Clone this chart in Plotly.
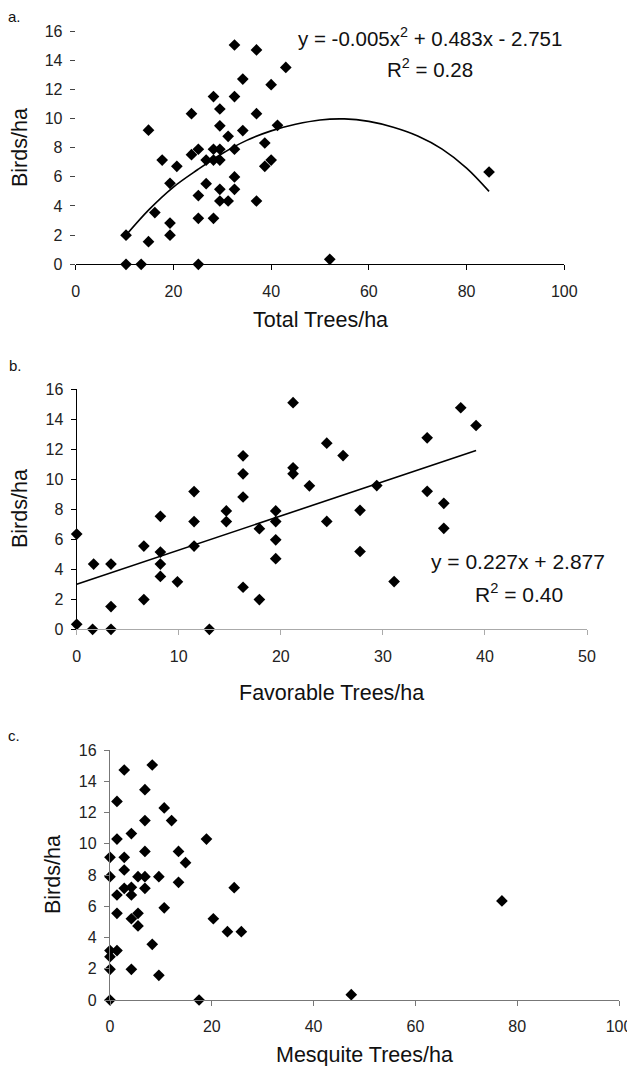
import plotly.graph_objects as go

# page body has an 8px default margin: draw the figure smaller and shift coordinates
OFF = 8
W, H = 635 - OFF, 1074 - 2 * OFF

# ---------------- data ----------------
# Panel a: Total Trees/ha vs Birds/ha
total_trees = [10.3, 10.3, 13.4, 14.9, 14.9, 16.2, 17.7, 19.3, 19.3, 19.3, 20.7, 23.7, 23.7,
               25.1, 25.1, 25.1, 25.1, 26.7, 26.7, 28.2, 28.2, 28.2, 28.2, 29.5, 29.5, 29.5,
               29.5, 29.5, 29.5, 31.2, 31.2, 32.5, 32.5, 32.5, 32.5, 32.5, 34.2, 34.2, 37.0,
               37.0, 37.0, 38.7, 38.7, 40.0, 40.0, 41.3, 43.0, 52.0, 84.6]
birds_a = [2.0, 0, 0, 9.2, 1.55, 3.55, 7.15, 5.55, 2.83, 2.0, 6.72, 10.33, 7.52,
           7.89, 4.71, 3.15, 0, 5.53, 7.15, 11.5, 7.89, 7.15, 3.15, 10.65, 9.5, 7.89,
           7.15, 5.14, 4.34, 8.78, 4.34, 15.04, 11.5, 7.89, 5.99, 5.14, 12.7, 9.17, 14.7,
           10.33, 4.34, 8.32, 6.72, 12.32, 7.15, 9.53, 13.5, 0.34, 6.33]
trend_a_x = [10.3, 15, 20, 25, 30, 35, 40, 45, 50, 55, 60, 65, 70, 75, 80, 84.6]
trend_a_y = [2.0, 3.75, 5.3, 6.5, 7.6, 8.5, 9.15, 9.6, 9.9, 9.97, 9.8, 9.4, 8.8, 7.9, 6.6, 5.0]

# Panel b: Favorable Trees/ha vs Birds/ha
fav_trees = [0, 0, 1.56, 1.66, 3.36, 3.36, 3.36, 6.58, 6.58, 8.2, 8.2, 8.2, 8.2, 9.87,
             11.5, 11.5, 11.5, 13.0, 14.66, 14.66, 16.3, 16.3, 16.3, 16.3, 17.9, 17.9,
             19.5, 19.5, 19.5, 19.5, 21.2, 21.2, 21.2, 22.8, 24.5, 24.5, 26.1, 27.76, 27.76,
             29.4, 31.1, 34.34, 34.34, 35.97, 35.97, 37.63, 39.13]
birds_b = [6.34, 0.33, 0, 4.34, 4.34, 1.51, 0, 5.54, 1.98, 7.52, 5.14, 4.34, 3.52, 3.16,
           9.17, 7.17, 5.54, 0, 7.88, 7.17, 11.55, 10.35, 8.81, 2.8, 6.7, 1.98,
           7.88, 7.17, 5.96, 4.7, 15.09, 10.75, 10.35, 9.55, 12.39, 7.18, 11.57, 7.92, 5.18,
           9.57, 3.18, 12.75, 9.19, 8.39, 6.72, 14.75, 13.57]
trend_b_x = [0, 39.13]
trend_b_y = [3.0, 11.9]

# Panel c: Mesquite Trees/ha vs Birds/ha
mesq_trees = [0, 0, 0, 0, 0, 0, 1.37, 1.37, 1.37, 1.37, 1.37, 2.8, 2.8, 2.8, 2.8,
              4.2, 4.2, 4.2, 4.2, 4.2, 5.5, 5.5, 5.5, 6.86, 6.86, 6.86, 6.86, 6.86,
              8.3, 8.3, 9.6, 9.6, 10.65, 10.65, 12.1, 13.46, 13.46, 14.84, 17.5, 18.95,
              20.3, 23.07, 24.4, 25.8, 47.4, 77.0]
birds_c = [0, 1.96, 2.77, 3.16, 7.89, 9.13, 3.16, 5.55, 6.72, 10.3, 12.71, 14.72, 9.13, 8.32, 7.15,
           10.65, 7.21, 6.72, 5.2, 1.96, 7.89, 5.55, 4.74, 13.46, 11.48, 9.51, 7.89, 7.15,
           15.04, 3.56, 7.89, 1.58, 5.9, 12.29, 11.48, 9.51, 7.53, 8.79, 0, 10.3,
           5.2, 4.37, 7.19, 4.37, 0.34, 6.34]

y_ticks = [0, 2, 4, 6, 8, 10, 12, 14, 16]
x_ticks_100 = [0, 20, 40, 60, 80, 100]
x_ticks_50 = [0, 10, 20, 30, 40, 50]

panel_labels = ["a.", "b.", "c."]
x_titles = ["Total Trees/ha", "Favorable Trees/ha", "Mesquite Trees/ha"]
y_title = "Birds/ha"
eq_a = ["y = -0.005x<sup>2</sup> + 0.483x - 2.751", "R<sup>2</sup> = 0.28"]
eq_b = ["y = 0.227x + 2.877", "R<sup>2</sup> = 0.40"]

# ---------------- figure ----------------
FONT = "Liberation Sans, Arial, sans-serif"
NARROW = "Liberation Sans Narrow, Arial Narrow, sans-serif"


def px_x(p):
    return (p - OFF) / W


def px_y(p):
    return 1 - (p - OFF) / H


marker = dict(symbol="diamond", size=9, color="black", line=dict(width=0))

fig = go.Figure()
fig.add_trace(go.Scatter(x=total_trees, y=birds_a, mode="markers", marker=marker,
                         xaxis="x", yaxis="y", cliponaxis=False, showlegend=False))
fig.add_trace(go.Scatter(x=trend_a_x, y=trend_a_y, mode="lines",
                         line=dict(color="black", width=1.6, shape="spline"),
                         xaxis="x", yaxis="y", showlegend=False))
fig.add_trace(go.Scatter(x=fav_trees, y=birds_b, mode="markers", marker=marker,
                         xaxis="x2", yaxis="y2", cliponaxis=False, showlegend=False))
fig.add_trace(go.Scatter(x=trend_b_x, y=trend_b_y, mode="lines",
                         line=dict(color="black", width=1.6),
                         xaxis="x2", yaxis="y2", showlegend=False))
fig.add_trace(go.Scatter(x=mesq_trees, y=birds_c, mode="markers", marker=marker,
                         xaxis="x3", yaxis="y3", cliponaxis=False, showlegend=False))

tickfont = dict(family=FONT, size=16, color="#222")


def xaxis(domain, rng, ticks, anchor, linecolor):
    return dict(domain=domain, range=rng, tickvals=ticks, anchor=anchor,
                showgrid=False, zeroline=False, showline=True, linecolor=linecolor,
                linewidth=1.3, ticks="outside", ticklen=5, tickcolor=linecolor,
                tickwidth=1.3, tickfont=tickfont, automargin=False,
                ticklabelstandoff=7, fixedrange=True)


def yaxis(domain, anchor, showline, linecolor):
    return dict(domain=domain, range=[0, 16], tickvals=y_ticks, anchor=anchor,
                showgrid=False, zeroline=False, showline=showline, linecolor=linecolor,
                linewidth=1.3, ticks="outside", ticklen=5, tickcolor=linecolor,
                tickwidth=1.3, tickfont=tickfont, automargin=False,
                ticklabelstandoff=4, fixedrange=True)


fig.update_layout(
    width=W, height=H,
    margin=dict(l=0, r=0, t=0, b=0),
    paper_bgcolor="white", plot_bgcolor="white",
    xaxis=xaxis([px_x(75.7), px_x(564.3)], [0, 100], x_ticks_100, "y", "black"),
    yaxis=yaxis([px_y(264.3), px_y(31)], "x", False, "#444"),
    xaxis2=xaxis([px_x(76.7), px_x(587)], [0, 50], x_ticks_50, "y2", "#aaa"),
    yaxis2=yaxis([px_y(629.3), px_y(389)], "x2", True, "black"),
    xaxis3=xaxis([px_x(110), px_x(619)], [0, 100], x_ticks_100, "y3", "#777"),
    yaxis3=yaxis([px_y(1000), px_y(750)], "x3", True, "#777"),
)

ann = []


def add_text(text, x, y, size, family=FONT, angle=0):
    ann.append(dict(text=text, x=px_x(x), y=px_y(y), xref="paper", yref="paper",
                    xanchor="center", yanchor="middle", showarrow=False, textangle=angle,
                    font=dict(family=family, size=size, color="#111")))


# panel letters
for lab, (x, y) in zip(panel_labels, [(14, 17), (15, 365), (14, 735)]):
    add_text(lab, x, y, 15, NARROW)
# x titles
for t, (x, y) in zip(x_titles, [(320, 320), (331, 693), (364, 1055)]):
    add_text(t, x, y, 21.5)
# y titles
for (x, y) in [(20, 148), (20, 509), (53, 875)]:
    add_text(y_title, x, y, 21.5, angle=-90)
# equations
add_text(eq_a[0], 430, 37, 20.5)
add_text(eq_a[1], 430, 68, 20.5)
add_text(eq_b[0], 518, 561, 21)
add_text(eq_b[1], 519, 593, 21)

fig.update_layout(annotations=ann)
fig.write_html("out.html")
